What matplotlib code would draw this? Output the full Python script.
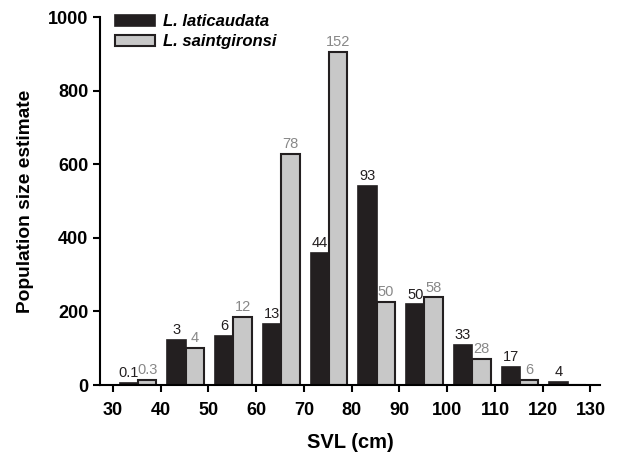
import matplotlib.pyplot as plt
import numpy as np

plt.rcParams['font.family'] = ['Liberation Sans', 'DejaVu Sans']

bins = [30, 40, 50, 60, 70, 80, 90, 100, 110, 120]
lat_size = [6, 122, 134, 166, 358, 541, 219, 109, 48, 9]
sai_size = [15, 100, 186, 628, 906, 225, 238, 72, 13, 0]
lat_labels = ["0.1", "3", "6", "13", "44", "93", "50", "33", "17", "4"]
sai_labels = ["0.3", "4", "12", "78", "152", "50", "58", "28", "6", ""]

fig = plt.figure(figsize=(6.25, 4.57), dpi=100)
ax = fig.add_axes([0.16, 0.1575, 0.80, 0.805])

w = 3.85
x = np.array(bins) + 5.25
ax.bar(x - w / 2, lat_size, width=w, color="#231f20", edgecolor="#231f20",
       linewidth=1.2, label="L. laticaudata")
ax.bar(x + w / 2, sai_size, width=w, color="#c8c8c8", edgecolor="#231f20",
       linewidth=1.5, label="L. saintgironsi")

for xi, h, t in zip(x - w / 2, lat_size, lat_labels):
    ax.text(xi, h + 8, t, ha="center", va="bottom", fontsize=10.5, color="#231f20")
for xi, h, t in zip(x + w / 2, sai_size, sai_labels):
    ax.text(xi, h + 8, t, ha="center", va="bottom", fontsize=10.5, color="#888888")

ax.set_xlim(27.3, 132)
ax.set_ylim(0, 1000)
ax.set_xticks(range(30, 131, 10))
ax.set_yticks(range(0, 1001, 200))
ax.spines["top"].set_visible(False)
ax.spines["right"].set_visible(False)
ax.spines["left"].set_linewidth(1.5)
ax.spines["bottom"].set_linewidth(1.5)
ax.tick_params(direction="out", length=5, width=1.5, labelsize=13)
ax.tick_params(axis="x", pad=7)
for lab in ax.get_xticklabels() + ax.get_yticklabels():
    lab.set_fontweight("bold")

ax.set_xlabel("SVL (cm)", fontsize=14.5, fontweight="bold", labelpad=10)
ax.set_ylabel("Population size estimate", fontsize=13.8, fontweight="bold", labelpad=10)

ax.legend(loc="upper left", bbox_to_anchor=(0.0, 1.048), frameon=False,
          prop={"weight": "bold", "style": "italic", "size": 12},
          handlelength=2.4, handleheight=0.7, labelspacing=0.3, handletextpad=0.5)

fig.savefig("out.png", dpi=100)
